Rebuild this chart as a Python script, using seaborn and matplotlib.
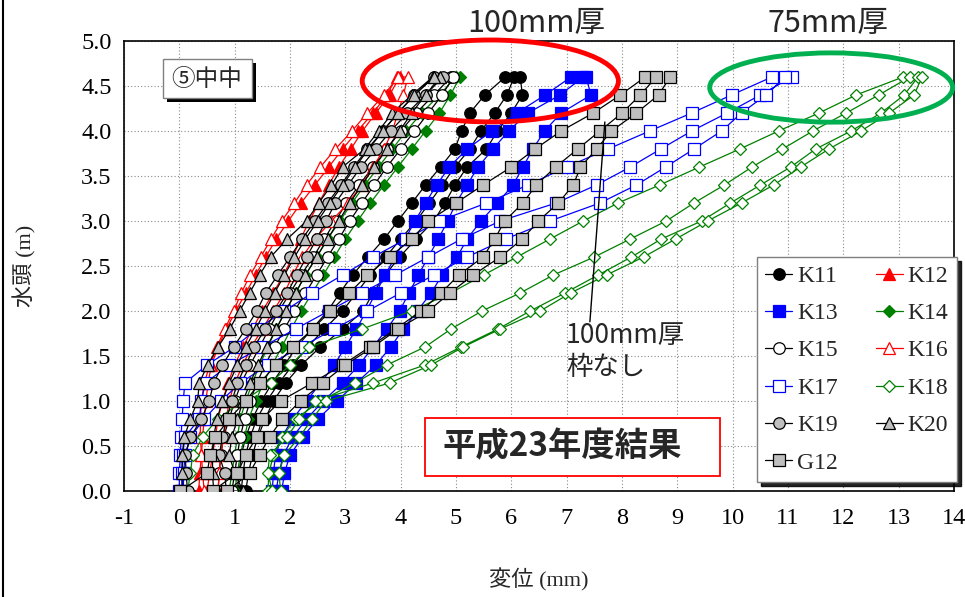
import matplotlib
matplotlib.use("Agg")
import matplotlib.pyplot as plt
import seaborn as sns
import numpy as np
from matplotlib.patches import Ellipse, Rectangle
from matplotlib.lines import Line2D

# ---------------- data ----------------
HEAD = [0.0, 0.2, 0.4, 0.6, 0.8, 1.0, 1.2, 1.4, 1.6, 1.8, 2.0, 2.2,
        2.4, 2.6, 2.8, 3.0, 3.2, 3.4, 3.6, 3.8, 4.0, 4.2, 4.4, 4.6]

K11 = [[1.05, 1.08, 1.12, 1.20, 1.32, 1.48, 1.68, 1.90, 2.12, 2.40, 2.68, 2.90, 3.13, 3.41, 3.70, 3.95, 4.20, 4.45, 4.72, 4.98, 5.10, 5.25, 5.52, 5.89],
       [1.20, 1.25, 1.32, 1.42, 1.55, 1.70, 1.92, 2.20, 2.55, 2.95, 3.32, 3.50, 3.72, 3.98, 4.28, 4.60, 4.80, 4.98, 5.20, 5.55, 5.75, 6.00, 6.20, 6.16],
       [1.12, 1.15, 1.20, 1.28, 1.40, 1.58, 1.80, 2.05, 2.32, 2.62, 2.95, 3.20, 3.45, 3.73, 4.00, 4.28, 4.52, 4.75, 4.98, 5.25, 5.45, 5.70, 5.92, 6.05]]
K12 = [[0.35, 0.37, 0.40, 0.42, 0.45, 0.48, 0.52, 0.58, 0.70, 0.85, 1.02, 1.20, 1.38, 1.56, 1.75, 1.97, 2.20, 2.45, 2.70, 2.95, 3.22, 3.50, 3.75, 3.93],
       [0.50, 0.55, 0.60, 0.65, 0.70, 0.78, 0.88, 1.00, 1.15, 1.32, 1.50, 1.70, 1.88, 2.05, 2.19, 2.35, 2.52, 2.70, 2.88, 3.10, 3.31, 3.55, 3.80, 3.98]]
K13 = [[1.68, 1.70, 1.74, 1.85, 2.05, 2.30, 2.55, 2.80, 3.00, 3.20, 3.38, 3.55, 3.72, 3.90, 4.08, 4.26, 4.45, 4.65, 4.88, 5.20, 5.65, 6.10, 6.61, 7.08],
       [1.85, 1.90, 2.00, 2.23, 2.50, 2.85, 3.20, 3.55, 3.82, 4.05, 4.30, 4.55, 4.75, 5.02, 5.20, 5.45, 5.75, 6.03, 6.21, 6.39, 6.60, 6.90, 7.44, 7.35],
       [1.75, 1.80, 1.88, 2.05, 2.30, 2.60, 2.95, 3.25, 3.50, 3.75, 3.98, 4.15, 4.32, 4.50, 4.68, 4.85, 5.00, 5.20, 5.40, 5.67, 5.95, 6.30, 6.88, 7.30]]
K14 = [[0.90, 0.95, 1.00, 1.05, 1.10, 1.20, 1.32, 1.45, 1.60, 1.75, 1.92, 2.10, 2.28, 2.48, 2.68, 2.90, 3.12, 3.35, 3.60, 3.85, 4.10, 4.38, 4.70, 5.00],
       [1.00, 1.05, 1.10, 1.18, 1.25, 1.38, 1.52, 1.68, 1.85, 2.02, 2.20, 2.40, 2.60, 2.80, 3.00, 3.22, 3.45, 3.70, 3.95, 4.20, 4.45, 4.70, 4.90, 5.07]]
K15 = [[0.70, 0.72, 0.75, 0.80, 0.90, 1.00, 1.12, 1.28, 1.45, 1.62, 1.80, 2.00, 2.20, 2.42, 2.62, 2.82, 3.02, 3.25, 3.50, 3.75, 4.00, 4.28, 4.60, 4.91],
       [0.95, 1.00, 1.05, 1.10, 1.18, 1.28, 1.40, 1.55, 1.72, 1.90, 2.08, 2.28, 2.48, 2.68, 2.88, 3.08, 3.30, 3.52, 3.75, 4.00, 4.25, 4.50, 4.75, 4.95]]
K16 = [[0.45, 0.42, 0.40, 0.38, 0.38, 0.40, 0.45, 0.55, 0.68, 0.82, 0.98, 1.12, 1.28, 1.47, 1.66, 1.85, 2.08, 2.30, 2.55, 2.82, 3.12, 3.40, 3.70, 3.95],
       [0.70, 0.72, 0.75, 0.80, 0.85, 0.90, 1.00, 1.15, 1.30, 1.50, 1.70, 1.90, 2.05, 2.22, 2.45, 2.75, 3.05, 3.30, 3.50, 3.70, 3.85, 3.95, 4.05, 4.13]]
K17 = [[0.00, 0.00, 0.02, 0.03, 0.05, 0.07, 0.10, 0.50, 1.00, 1.40, 1.90, 2.40, 2.95, 3.50, 4.10, 4.70, 5.55, 6.30, 7.00, 7.75, 8.50, 9.26, 9.98, 10.71],
       [0.05, 0.05, 0.06, 0.10, 0.36, 0.40, 0.47, 0.90, 1.50, 2.10, 2.70, 3.30, 3.90, 4.50, 5.10, 5.80, 6.81, 7.54, 8.15, 8.70, 9.26, 9.90, 10.50, 11.07],
       [0.07, 0.08, 0.10, 0.20, 0.45, 0.75, 1.10, 1.60, 2.20, 2.80, 3.40, 4.00, 4.60, 5.20, 5.90, 6.70, 7.60, 8.26, 8.79, 9.30, 9.80, 10.16, 10.60, 10.95]]
K18 = [[0.15, 0.20, 0.24, 0.42, 0.69, 1.15, 1.65, 2.00, 2.35, 3.30, 4.20, 4.90, 5.50, 6.10, 6.70, 7.30, 7.93, 8.68, 9.40, 10.13, 10.83, 11.56, 12.23, 13.08],
       [1.60, 1.62, 1.70, 1.85, 2.10, 2.55, 3.17, 3.75, 4.44, 4.91, 5.47, 6.16, 6.76, 7.50, 8.15, 8.80, 9.30, 9.85, 10.35, 10.90, 11.45, 12.05, 12.64, 13.20],
       [1.68, 1.60, 1.63, 1.95, 2.17, 2.46, 3.50, 4.44, 5.09, 5.76, 6.34, 6.97, 7.57, 8.17, 8.71, 9.44, 9.96, 10.50, 11.05, 11.50, 12.14, 12.68, 13.10, 13.35],
       [1.83, 1.80, 1.90, 2.17, 2.40, 2.65, 3.80, 4.55, 5.13, 5.80, 6.52, 7.07, 7.72, 8.39, 8.97, 9.55, 10.16, 10.74, 11.23, 11.74, 12.32, 12.83, 13.28, 13.42]]
K19 = [[0.15, 0.12, 0.11, 0.20, 0.40, 0.54, 0.62, 0.78, 0.98, 1.20, 1.40, 1.56, 1.78, 2.00, 2.22, 2.45, 2.68, 2.92, 3.15, 3.40, 3.68, 3.95, 4.25, 4.60],
       [0.85, 0.82, 0.72, 0.78, 0.85, 0.95, 1.05, 1.20, 1.35, 1.55, 1.75, 1.95, 2.12, 2.30, 2.48, 2.65, 2.82, 3.05, 3.28, 3.55, 3.82, 4.12, 4.45, 4.76]]
K20 = [[0.05, 0.05, 0.05, 0.09, 0.20, 0.33, 0.36, 0.51, 0.70, 0.91, 1.09, 1.27, 1.45, 1.65, 1.95, 2.30, 2.52, 2.75, 2.95, 3.35, 3.60, 3.85, 4.20, 4.58],
       [1.15, 1.00, 0.90, 0.95, 1.05, 1.15, 1.28, 1.42, 1.58, 1.75, 1.92, 2.10, 2.28, 2.48, 2.68, 2.88, 3.08, 3.30, 3.52, 3.75, 3.98, 4.20, 4.45, 4.71],
       [0.62, 0.60, 0.60, 0.62, 0.68, 0.78, 0.90, 1.05, 1.20, 1.38, 1.55, 1.72, 1.90, 2.08, 2.28, 2.50, 2.72, 2.95, 3.18, 3.42, 3.68, 3.95, 4.25, 4.60]]
G12 = [[0.02, 0.50, 0.56, 0.65, 0.90, 1.20, 1.45, 1.75, 2.05, 2.41, 2.73, 3.07, 3.40, 3.80, 4.20, 4.50, 5.00, 5.49, 6.00, 6.43, 6.90, 7.48, 7.97, 8.42],
       [0.60, 1.05, 1.20, 1.40, 1.50, 1.83, 2.40, 2.95, 3.44, 3.91, 4.37, 4.73, 5.05, 5.49, 5.70, 5.88, 6.21, 6.45, 6.80, 7.20, 7.60, 8.00, 8.33, 8.62],
       [0.87, 1.27, 1.45, 1.63, 1.86, 2.19, 2.59, 3.00, 3.50, 3.95, 4.50, 4.89, 5.31, 5.80, 6.20, 6.49, 6.85, 7.12, 7.25, 7.54, 7.81, 8.26, 8.66, 8.87]]

SERIES = ["K11", "K12", "K13", "K14", "K15", "K16", "K17", "K18", "K19", "K20", "G12"]
DATA = {"K11": K11, "K12": K12, "K13": K13, "K14": K14, "K15": K15, "K16": K16,
        "K17": K17, "K18": K18, "K19": K19, "K20": K20, "G12": G12}
X_TICKS = list(range(-1, 15))
Y_TICKS = [0.0, 0.5, 1.0, 1.5, 2.0, 2.5, 3.0, 3.5, 4.0, 4.5, 5.0]

# ---------------- styles ----------------
RED, BLUE, GREEN, GREY = "#FF0000", "#0000FF", "#008000", "#BFBFBF"
STYLE = {  # marker, size, face, edge, line colour
    "K11": ("o", 8.3, "black", "black", "black"),
    "K12": ("^", 9.0, RED, RED, RED),
    "K13": ("s", 8.0, BLUE, BLUE, BLUE),
    "K14": ("D", 6.5, GREEN, GREEN, GREEN),
    "K15": ("o", 8.3, "white", "black", "black"),
    "K16": ("^", 9.0, "white", RED, RED),
    "K17": ("s", 8.0, "white", BLUE, BLUE),
    "K18": ("D", 6.2, "white", GREEN, GREEN),
    "K19": ("o", 8.3, GREY, "black", "black"),
    "K20": ("^", 9.0, GREY, "black", "black"),
    "G12": ("s", 8.0, GREY, "black", "black"),
}

sns.set_style("white")
plt.rcParams["font.family"] = ["Liberation Serif", "Noto Sans CJK JP"]
CJK = ["Noto Sans CJK JP", "DejaVu Sans"]
SERIF_CJK = ["Liberation Serif", "Noto Sans CJK JP"]

W, H = 965, 597
fig = plt.figure(figsize=(W / 100, H / 100), dpi=100)
L, R, T, B = 124, 954, 41, 491
ax = fig.add_axes([L / W, 1 - B / H, (R - L) / W, (B - T) / H])

for z, name in enumerate(SERIES):
    m, ms, fc, ec, lc = STYLE[name]
    xs, ys = [], []
    for i, curve in enumerate(DATA[name]):
        if i % 2 == 0:
            xs += curve
            ys += HEAD
        else:
            xs += curve[::-1]
            ys += HEAD[::-1]
    sns.lineplot(x=xs, y=ys, sort=False, estimator=None, ax=ax, color=lc,
                 linewidth=0.9, marker=m, markersize=ms, markerfacecolor=fc,
                 markeredgecolor=ec, markeredgewidth=0.9, legend=False, zorder=3 + z)

ax.set_xlim(-1, 14)
ax.set_ylim(0, 5)
ax.set_xticks(X_TICKS)
ax.set_yticks(Y_TICKS)
ax.set_xticklabels([str(v) for v in X_TICKS])
ax.set_yticklabels([f"{v:.1f}" for v in Y_TICKS])
ax.grid(True, color="#8a8a8a", linestyle=(0, (1, 2)), linewidth=0.8)
ax.set_axisbelow(True)
ax.tick_params(axis="both", direction="in", length=5, width=1, labelsize=17.5,
               colors="black")
ax.tick_params(axis="x", pad=12)
ax.tick_params(axis="y", pad=9)
for s in ax.spines.values():
    s.set_color("black")
    s.set_linewidth(1.2)
ax.set_xlabel("")
ax.set_ylabel("")

fig.text((L + R) / 2 / W, 1 - 580 / H, "変位 (mm)", ha="center", va="center",
         fontsize=16, family=SERIF_CJK)
fig.text(25 / W, 1 - 266 / H, "水頭 (m)", ha="center", va="center", rotation=90,
         fontsize=16, family=SERIF_CJK)

# ellipses
ax.add_patch(Ellipse((5.62, 4.556), 4.63, 0.91, fill=False, ec=RED, lw=3.5,
                     clip_on=False, zorder=30))
ax.add_patch(Ellipse((11.78, 4.483), 4.39, 0.77, fill=False, ec="#00B050", lw=3.5,
                     clip_on=False, zorder=30))

# annotation texts
fig.text(536 / W, 1 - 24 / H, "100mm厚", ha="center", va="center", fontsize=22, family=CJK)
fig.text(828 / W, 1 - 24 / H, "75mm厚", ha="center", va="center", fontsize=22, family=CJK)
fig.text(566 / W, 1 - 322 / H, "100mm厚\n枠なし", ha="left", va="top", fontsize=19,
         family=CJK, linespacing=1.25)
ax.add_line(Line2D([7.42, 7.69], [1.88, 4.10], color="black", lw=1.0, zorder=31))

# result box
fig.add_artist(Rectangle((425 / W, 1 - 476 / H), 295 / W, 58 / H, transform=fig.transFigure,
                         facecolor="white", edgecolor=RED, lw=1.3, zorder=40))
fig.text(562 / W, 1 - 447 / H, "平成23年度結果", ha="center", va="center", fontsize=24,
         fontweight="bold", family=CJK, zorder=41)

# ⑤中中 box with shadow
fig.add_artist(Rectangle((167 / W, 1 - 102 / H), 89 / W, 39 / H, transform=fig.transFigure,
                         facecolor="black", edgecolor="black", lw=0, zorder=40))
fig.add_artist(Rectangle((163 / W, 1 - 98 / H), 89 / W, 39 / H, transform=fig.transFigure,
                         facecolor="white", edgecolor="#808080", lw=1.0, zorder=41))
fig.text(207 / W, 1 - 79 / H, "⑤中中", ha="center", va="center", fontsize=17,
         family=CJK, zorder=42)

# left border of chart area
fig.add_artist(Line2D([2.5 / W, 2.5 / W], [0, 1], transform=fig.transFigure,
                      color="black", lw=1.5))

# legend (column-major order to get K11 K12 / K13 K14 ... rows)
order = ["K11", "K13", "K15", "K17", "K19", "G12", "K12", "K14", "K16", "K18", "K20"]
handles = []
for name in order:
    m, ms, fc, ec, lc = STYLE[name]
    handles.append(Line2D([], [], color=lc, lw=0.9, marker=m, markersize=ms,
                          markerfacecolor=fc, markeredgecolor=ec, markeredgewidth=0.9))
leg = fig.legend(handles, order, ncol=2, loc="upper left",
                 bbox_to_anchor=(757 / W, 1 - 257 / H), bbox_transform=fig.transFigure,
                 prop={"family": "Liberation Serif", "size": 17}, frameon=True,
                 fancybox=False, edgecolor="#7f7f7f", framealpha=1, borderaxespad=0,
                 handlelength=1.15, handletextpad=0.2, columnspacing=1.6,
                 labelspacing=0.67, borderpad=0.35,
                 shadow={"ox": 3, "oy": -3, "color": "black", "alpha": 0.85})
leg.set_zorder(50)

fig.savefig("out.png", dpi=100)
